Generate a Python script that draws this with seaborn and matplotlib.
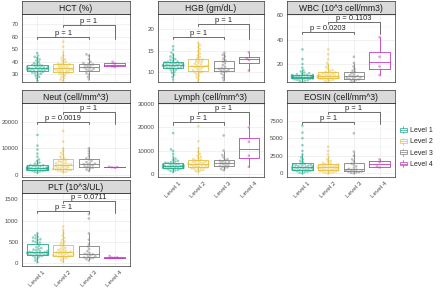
import numpy as np
import pandas as pd
import seaborn as sns
import matplotlib
matplotlib.use("Agg")
import matplotlib.pyplot as plt
from matplotlib.legend_handler import HandlerBase
from matplotlib.patches import Rectangle, Patch
from matplotlib.lines import Line2D
from matplotlib.ticker import FixedLocator

levels = ["Level 1", "Level 2", "Level 3", "Level 4"]
colors = ["#21A98B", "#E6BE3C", "#808080", "#C23CBF"]

# values, one list per level
hct_1 = [25, 27, 28, 29, 30, 30.5, 31, 31.5, 32, 32, 32.5, 33, 33, 33.5, 33.5, 34, 34, 34.5, 34.5, 34.5,
         35, 35, 35.5, 35.5, 36, 36, 36.5, 37, 37, 37.5, 38, 38.5, 39, 40, 41, 42, 43, 44, 45, 47]
hct_2 = [25, 26, 27, 28, 29, 30, 30.5, 31, 31.5, 32, 32.5, 33, 33, 33.5, 34, 34, 34, 34.5, 35, 35.5,
         36, 36.5, 37, 37.5, 38, 38, 38.5, 39, 40, 41, 42, 43, 45, 48, 52, 56]
hct_3 = [26, 28, 30, 31, 33, 33, 34, 34.5, 35, 35.5, 36.5, 37, 37.5, 38, 38.5, 39, 40, 42, 45, 46]
hct_4 = [36, 36.5, 38.5, 40]

hgb_1 = [7.5, 8.2, 8.8, 9.3, 9.7, 10, 10.3, 10.5, 10.7, 10.8, 10.9, 11, 11.1, 11.2, 11.3, 11.3, 11.4, 11.4,
         11.5, 11.5, 11.6, 11.6, 11.7, 11.8, 11.9, 12, 12, 12.1, 12.2, 12.3, 12.4, 12.6, 12.8, 13, 13.3,
         13.6, 14, 14.5, 15.2, 16]
hgb_2 = [7, 7.6, 8.2, 8.7, 9.1, 9.4, 9.7, 9.9, 10, 10.2, 10.4, 10.6, 10.8, 11, 11.1, 11.2, 11.3, 11.3,
         11.4, 11.5, 11.7, 11.9, 12.1, 12.3, 12.5, 12.7, 12.9, 13.2, 13.5, 13.9, 14.3, 14.8, 15.3, 15.8,
         16.3, 16.8]
hgb_3 = [8, 8.6, 9.2, 9.6, 10, 10.1, 10.3, 10.5, 10.6, 10.7, 10.9, 11.2, 11.6, 12, 12.4, 12.7, 13.1, 13.6, 14, 14.5]
hgb_4 = [10.3, 12.8, 13.2, 14.6]

wbc_1 = [5.5, 6, 6.4, 6.8, 7.1, 7.4, 7.7, 7.9, 8.1, 8.2, 8.4, 8.6, 8.8, 8.9, 9.1, 9.2, 9.4, 9.5, 9.6, 9.7,
         9.8, 10, 10.1, 10.3, 10.4, 10.6, 10.8, 10.9, 11.1, 11.3, 11.6, 12, 12.5, 13, 14, 15, 17, 20, 24, 32]
wbc_2 = [5.8, 6.3, 6.8, 7.2, 7.6, 7.9, 8.1, 8.3, 8.5, 8.7, 8.9, 9.1, 9.3, 9.5, 9.7, 9.9, 10, 10.2, 10.5,
         10.8, 11.1, 11.4, 11.8, 12.2, 12.6, 13.1, 13.6, 14.2, 15, 16, 17.5, 19, 21, 24, 28, 32]
wbc_3 = [5.5, 6.3, 7, 7.5, 7.8, 8, 8.5, 9, 9.5, 9.8, 10.2, 10.8, 11.5, 12.5, 13.5, 14.5, 16, 18, 21, 26]
wbc_4 = [11, 18, 26, 42]

neut_1 = [800, 1100, 1300, 1450, 1550, 1650, 1750, 1800, 1850, 1900, 1950, 2050, 2150, 2250, 2350, 2400,
          2450, 2500, 2550, 2600, 2650, 2750, 2850, 2950, 3050, 3150, 3300, 3450, 3600, 3700, 3900, 4200,
          4600, 5100, 5800, 6800, 8000, 9500, 11000, 15000]
neut_2 = [900, 1200, 1400, 1600, 1750, 1850, 1950, 2050, 2150, 2300, 2450, 2600, 2800, 3000, 3200, 3400,
          3600, 3700, 3800, 3950, 4100, 4300, 4500, 4800, 5100, 5400, 5700, 6000, 6400, 6900, 7500, 8200,
          9000, 10000, 12500, 16500]
neut_3 = [1500, 2000, 2400, 2700, 2900, 3100, 3400, 3700, 3900, 4000, 4200, 4500, 4800, 5300, 5800, 6200,
          7000, 8000, 9000, 10000]
neut_4 = [2700, 2850, 2900, 3050]

lymph_1 = [800, 1200, 1500, 1700, 1900, 2050, 2200, 2300, 2400, 2500, 2600, 2700, 2800, 2900, 3000, 3100,
           3200, 3300, 3350, 3400, 3500, 3600, 3700, 3800, 3900, 4000, 4200, 4400, 4600, 4800, 5000, 5300,
           5600, 6000, 6500, 7200, 8500, 9800, 10500, 17500]
lymph_2 = [700, 1100, 1400, 1700, 1900, 2100, 2300, 2500, 2650, 2800, 3000, 3200, 3400, 3600, 3750, 3900,
           4050, 4150, 4250, 4400, 4600, 4800, 5000, 5200, 5450, 5700, 6000, 6300, 6700, 7200, 7800, 8500,
           9500, 11000, 14000, 20500]
lymph_3 = [1500, 2000, 2500, 2800, 3000, 3300, 3600, 3900, 4200, 4500, 4800, 5000, 5300, 5600, 5900, 6300,
           7000, 8000, 10000, 16500]
lymph_4 = [3000, 7800, 13800, 20000]

eosin_1 = [0, 100, 200, 250, 300, 350, 400, 450, 500, 500, 550, 600, 650, 700, 750, 800, 800, 850, 850, 900,
           950, 1000, 1050, 1100, 1150, 1200, 1250, 1300, 1350, 1400, 1600, 1800, 2000, 2300, 2700, 3200,
           4000, 5000, 5800, 6800]
eosin_2 = [0, 100, 150, 200, 250, 300, 350, 400, 450, 500, 550, 600, 650, 700, 750, 800, 850, 850, 900, 950,
           1000, 1050, 1100, 1150, 1200, 1250, 1300, 1400, 1500, 1650, 1800, 2000, 2300, 2700, 3200, 3800]
eosin_3 = [0, 100, 150, 200, 250, 300, 400, 450, 500, 550, 650, 800, 1000, 1200, 1400, 1700, 2000, 2500,
           3100, 5700]
eosin_4 = [850, 1000, 1600, 2000]

plt_1 = [20, 60, 100, 130, 150, 165, 175, 185, 190, 195, 200, 210, 215, 220, 230, 235, 240, 245, 250, 255,
         265, 275, 285, 300, 315, 330, 350, 370, 400, 450, 480, 500, 520, 540, 560, 580, 600, 620, 650, 700]
plt_2 = [30, 70, 100, 120, 140, 150, 160, 165, 170, 175, 185, 195, 205, 215, 225, 235, 245, 255, 265, 275,
         290, 305, 320, 340, 360, 390, 420, 450, 480, 510, 550, 590, 640, 700, 780, 860]
plt_3 = [60, 90, 110, 120, 130, 140, 160, 180, 200, 205, 215, 240, 280, 330, 390, 450, 550, 700, 1050, 1150]
plt_4 = [125, 128, 132, 165]

titles = ["HCT (%)", "HGB (gm/dL)", "WBC (10^3 cell/mm3)", "Neut (cell/mm^3)",
          "Lymph (cell/mm^3)", "EOSIN (cell/mm^3)", "PLT (10^3/UL)"]
groups = [[hct_1, hct_2, hct_3, hct_4], [hgb_1, hgb_2, hgb_3, hgb_4], [wbc_1, wbc_2, wbc_3, wbc_4],
          [neut_1, neut_2, neut_3, neut_4], [lymph_1, lymph_2, lymph_3, lymph_4],
          [eosin_1, eosin_2, eosin_3, eosin_4], [plt_1, plt_2, plt_3, plt_4]]
p_low = ["p = 1", "p = 1", "p = 0.0203", "p = 0.0019", "p = 1", "p = 1", "p = 1"]
p_high = ["p = 1", "p = 1", "p = 0.1103", "p = 1", "p = 1", "p = 1", "p = 0.0711"]
y_low = [60, 18.1, 45.9, 20000, 22100, 7360, 1230]
y_high = [69.5, 21.3, 54.5, 23750, 26700, 8780, 1470]
ylims = [(24, 78), (7.6, 23.6), (5.3, 61), (-800, 27000), (-1400, 30500), (-500, 10000), (-70, 1650)]
yticks = [[30, 40, 50, 60, 70], [10, 15, 20], [20, 40, 60], [0, 10000, 20000],
          [0, 10000, 20000, 30000], [0, 2500, 5000, 7500], [0, 500, 1000, 1500]]

# panel boxes in pixels (x0, x1, y0, y1), strips sit on top
cols = [(22, 130), (158, 264), (287, 395)]
rows = [(14, 82), (103, 177), (193, 266)]
strip_h = 13
show_x = [False, False, False, False, True, True, True]

sns.set_style("white")
plt.rcParams["font.family"] = ["Liberation Sans", "DejaVu Sans"]

W, H = 440, 290
fig = plt.figure(figsize=(W / 100, H / 100), dpi=100)


def px_axes(x0, x1, y0, y1):
    return fig.add_axes([x0 / W, 1 - y1 / H, (x1 - x0) / W, (y1 - y0) / H])


def to_frame(g):
    recs = []
    for lev, vals in zip(levels, g):
        recs += [(lev, v) for v in vals]
    return pd.DataFrame(recs, columns=["level", "value"])


def bracket(ax, x1, x2, y, end1, end2, text):
    ax.plot([x1, x1, x2, x2], [end1, y, y, end2], color="#555555", lw=0.6, clip_on=False)
    ax.text((x1 + x2) / 2, y, text, ha="center", va="bottom", fontsize=5.4, color="#222222")


for i in range(7):
    r, c = divmod(i, 3)
    x0, x1 = cols[c]
    y0, y1 = rows[r]
    ax = px_axes(x0, x1, y0, y1)
    df = to_frame(groups[i])
    sns.swarmplot(data=df, x="level", y="value", hue="level", order=levels, hue_order=levels,
                  palette=colors, size=1.9, alpha=0.5, legend=False, ax=ax, warn_thresh=1)
    sns.boxplot(data=df, x="level", y="value", hue="level", order=levels, hue_order=levels,
                palette=colors, fill=False, width=0.8, linewidth=0.6, showfliers=False,
                showcaps=False, legend=False, ax=ax)
    lo, hi = ylims[i]
    rng = hi - lo
    ax.set_xlim(-0.6, 3.6)
    ax.set_ylim(lo, hi)
    ax.set_xlabel("")
    ax.set_ylabel("")
    yt = yticks[i]
    ax.set_yticks(yt)
    ax.set_yticklabels([str(t) for t in yt])
    step = yt[1] - yt[0]
    ax.yaxis.set_minor_locator(FixedLocator([t + step / 2 for t in [yt[0] - step] + yt]))
    ax.set_axisbelow(True)
    ax.grid(True, which="major", color="#EBEBEB", lw=0.5)
    ax.grid(True, which="minor", axis="y", color="#F3F3F3", lw=0.3)
    ax.tick_params(which="minor", length=0)
    ax.tick_params(axis="y", labelsize=4.4, labelcolor="#4D4D4D", length=1.5, width=0.5,
                   color="#333333", pad=1)
    if show_x[i]:
        ax.tick_params(axis="x", labelsize=4.6, labelcolor="#4D4D4D", length=1.5, width=0.5,
                       color="#333333", pad=1)
        plt.setp(ax.get_xticklabels(), rotation=45, ha="center", va="top")
    else:
        ax.tick_params(axis="x", labelbottom=False, length=0)
    for s in ax.spines.values():
        s.set_color("#333333")
        s.set_linewidth(0.5)

    tip = 0.03 * rng
    bracket(ax, 0, 2, y_low[i], y_low[i] - tip, y_low[i] - tip, p_low[i])
    bracket(ax, 1, 3, y_high[i], y_high[i] - tip, y_low[i] - tip, p_high[i])

    sax = px_axes(x0, x1, y0 - strip_h, y0)
    sax.set_facecolor("#D9D9D9")
    sax.set_xticks([])
    sax.set_yticks([])
    for s in sax.spines.values():
        s.set_color("#333333")
        s.set_linewidth(0.5)
    sax.text(0.5, 0.45, titles[i], ha="center", va="center", fontsize=6.2, color="#1A1A1A",
             transform=sax.transAxes)


class BoxKey(HandlerBase):
    def create_artists(self, legend, orig_handle, xdescent, ydescent, width, height, fontsize, trans):
        col = orig_handle.get_edgecolor()
        x0, y0, w, h = -xdescent, -ydescent, width, height
        box = Rectangle((x0 + 0.1 * w, y0 + 0.25 * h), 0.8 * w, 0.5 * h, fill=False,
                        edgecolor=col, lw=0.5, transform=trans)
        med = Line2D([x0 + 0.1 * w, x0 + 0.9 * w], [y0 + 0.5 * h] * 2, color=col, lw=0.5, transform=trans)
        wl = Line2D([x0 + 0.5 * w] * 2, [y0 + 0.05 * h, y0 + 0.25 * h], color=col, lw=0.5, transform=trans)
        wu = Line2D([x0 + 0.5 * w] * 2, [y0 + 0.75 * h, y0 + 0.95 * h], color=col, lw=0.5, transform=trans)
        return [box, med, wl, wu]


handles = [Patch(edgecolor=c, facecolor="none") for c in colors]
fig.legend(handles, levels, handler_map={Patch: BoxKey()}, loc="center left",
           bbox_to_anchor=(399 / W, 1 - 147 / H), frameon=False, fontsize=5,
           handlelength=1.2, handleheight=1.3, labelspacing=0.45, handletextpad=0.4,
           borderpad=0, borderaxespad=0)

fig.savefig("out.png", dpi=100)
